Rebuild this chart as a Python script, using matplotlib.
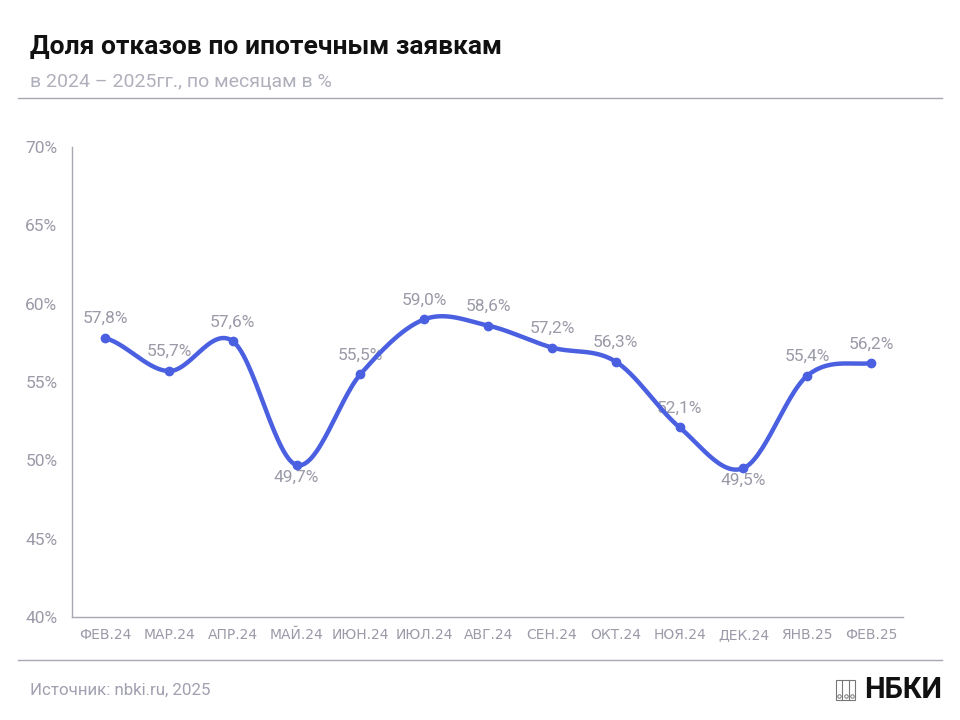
import numpy as np
import matplotlib
matplotlib.use("Agg")
import matplotlib.pyplot as plt
from matplotlib.patches import Rectangle
from matplotlib.lines import Line2D

months = ["ФЕВ.24", "МАР.24", "АПР.24", "МАЙ.24", "ИЮН.24", "ИЮЛ.24", "АВГ.24",
          "СЕН.24", "ОКТ.24", "НОЯ.24", "ДЕК.24", "ЯНВ.25", "ФЕВ.25"]
values = [57.8, 55.7, 57.6, 49.7, 55.5, 59.0, 58.6, 57.2, 56.3, 52.1, 49.5, 55.4, 56.2]
label_below = [False, False, False, True, False, False, False, False, False, False, True, False, False]
yticks = [40, 45, 50, 55, 60, 65, 70]

LINE = "#4a60e0"
GRAY = "#9a9aa8"
AXGRAY = "#a8a8b0"

plt.rcParams['font.family'] = ['Roboto', 'DejaVu Sans']

fig = plt.figure(figsize=(9.6, 7.2), dpi=100)
ax = fig.add_axes([72/960, 1-617/720, (903-72)/960, (617-147)/720])

x = np.arange(len(values))
y = np.array(values)

# Catmull-Rom smoothing for line rendering
def catmull(xs, ys, n=30):
    px = np.concatenate([[2*xs[0]-xs[1]], xs, [2*xs[-1]-xs[-2]]])
    py = np.concatenate([[ys[0]], ys, [ys[-1]]])
    outx, outy = [], []
    for i in range(1, len(px)-2):
        t = np.linspace(0, 1, n, endpoint=False)
        for arr, out in ((px, outx), (py, outy)):
            p0, p1, p2, p3 = arr[i-1], arr[i], arr[i+1], arr[i+2]
            out.extend(0.5*((2*p1) + (-p0+p2)*t + (2*p0-5*p1+4*p2-p3)*t**2 + (-p0+3*p1-3*p2+p3)*t**3))
    outx.append(xs[-1]); outy.append(ys[-1])
    return np.array(outx), np.array(outy)

sx, sy = catmull(x.astype(float), y)
ax.plot(sx, sy, color=LINE, lw=3.2, solid_capstyle='round', zorder=3)
ax.plot(x, y, 'o', color=LINE, ms=6, zorder=4)

for xi, yi, below in zip(x, y, label_below):
    txt = f"{yi:.1f}%".replace(".", ",")
    if below:
        ax.annotate(txt, (xi, yi), xytext=(0, -3.5), textcoords='offset points',
                    ha='center', va='top', fontsize=12.5, color=GRAY, zorder=2)
    else:
        ax.annotate(txt, (xi, yi), xytext=(0, 8.5), textcoords='offset points',
                    ha='center', va='bottom', fontsize=12.5, color=GRAY, zorder=2)

ax.set_xlim(-0.52, 12.5)
ax.set_ylim(40, 70)
ax.set_yticks(yticks)
ax.set_yticklabels([f"{t}%" for t in yticks], fontsize=12.5, color=GRAY)
ax.set_xticks(x)
ax.set_xticklabels(months, fontsize=10, color=GRAY)
for lbl in ax.get_xticklabels():
    lbl.set_fontfamily(['DejaVu Sans'])
ax.tick_params(axis='both', length=0)
ax.tick_params(axis='y', pad=10.5)
ax.tick_params(axis='x', pad=8)
for s in ['top', 'right']:
    ax.spines[s].set_visible(False)
for s in ['left', 'bottom']:
    ax.spines[s].set_color(AXGRAY)
    ax.spines[s].set_linewidth(1)

fig.text(30/960, 1-47/720, "Доля отказов по ипотечным заявкам", fontsize=19,
         fontweight='bold', color='#111111', va='center', ha='left')
fig.text(30/960, 1-82/720, "в 2024 – 2025гг., по месяцам в %", fontsize=14,
         color="#b0b0bc", va='center', ha='left')
fig.add_artist(Line2D([18/960, 942/960], [1-98/720, 1-98/720], color=AXGRAY, lw=1))
fig.add_artist(Line2D([18/960, 942/960], [1-660/720, 1-660/720], color=AXGRAY, lw=1))
fig.text(30/960, 1-690/720, "Источник: nbki.ru, 2025", fontsize=12.2,
         color="#a0a0b0", va='center', ha='left')
fig.text(942/960, 1-690/720, "НБКИ", fontsize=21, fontweight='bold',
         color='#111111', va='center', ha='right')

# logo icon
x0, y0, w, h = 836, 680, 19, 20
fig.add_artist(Rectangle((x0/960, 1-(y0+h)/720), w/960, h/720, fill=False,
                         ec='#777777', lw=0.8))
for k in range(1, 3):
    xx = (x0 + k*w/3)/960
    fig.add_artist(Line2D([xx, xx], [1-(y0+h)/720, 1-y0/720], color='#777777', lw=0.8))
for k in range(3):
    cx = (x0 + (k+0.5)*w/3)/960
    fig.add_artist(Line2D([cx], [1-(y0+h-4)/720], marker='o', ms=2.5, mfc='none',
                          mec='#777777', mew=0.7))

fig.savefig("out.png", dpi=100, facecolor='white')
